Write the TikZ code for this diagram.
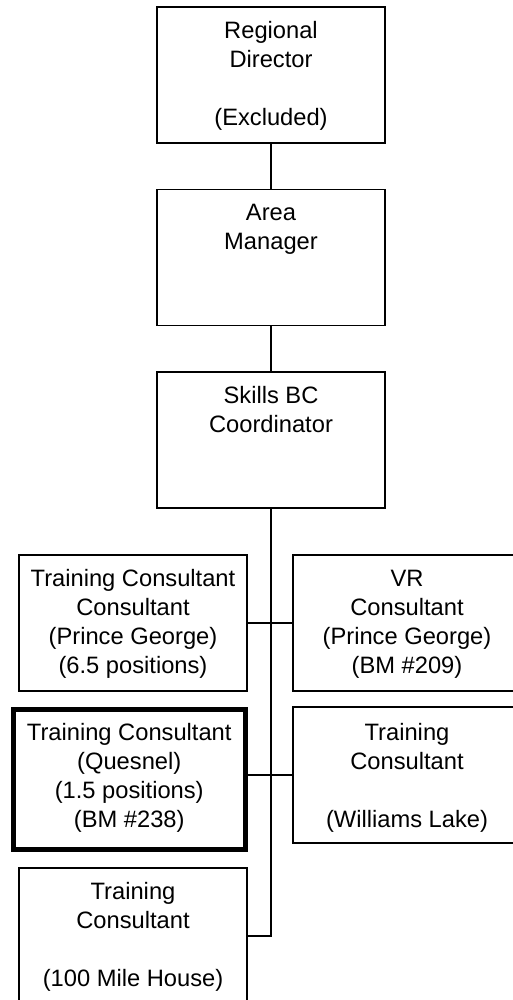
\documentclass[tikz,border=0pt]{standalone}
\usepackage{fontspec}
\setmainfont{Liberation Sans}
\begin{document}
\begin{tikzpicture}[x=1pt,y=-1pt,
  box/.style={draw=black, line width=1.7pt, rectangle, inner sep=0pt, minimum width=228pt, minimum height=136pt},
  thickbox/.style={box, line width=5pt, minimum width=231.5pt, minimum height=140pt},
  txt/.style={font=\fontsize{23.7}{29}\selectfont, align=center, inner sep=0pt, anchor=north},
  link/.style={draw=black, line width=1.7pt}]
\useasboundingbox (0,0) rectangle (513,1000);
\clip (0,0) rectangle (513,1000);
% boxes
\node[box] (rd) at (271,75) {};
\node[box] (am) at (271,257.5) {};
\node[box] (sbc) at (271,440) {};
\node[box] (pg) at (133,623) {};
\node[box] (vr) at (407,623) {};
\node[thickbox] (q) at (129.25,779) {};
\node[box] (wl) at (407,775) {};
\node[box] (mh) at (133,936) {};
% texts
\node[txt] (rdt) at ([yshift=-11.7pt]rd.north) {\strut Regional\\Director\\[29pt](Excluded)};
\node[txt] (amt) at ([yshift=-11.7pt]am.north) {\strut Area\\Manager};
\node[txt] (sbct) at ([yshift=-11.7pt]sbc.north) {\strut Skills BC\\Coordinator};
\node[txt] (pgt) at ([yshift=-11.7pt]pg.north) {\strut Training Consultant\\Consultant\\(Prince George)\\(6.5 positions)};
\node[txt] (vrt) at ([yshift=-11.7pt]vr.north) {\strut VR\\Consultant\\(Prince George)\\(BM \#209)};
\node[txt] (qt) at ([yshift=-13.7pt]q.north) {\strut Training Consultant\\(Quesnel)\\(1.5 positions)\\(BM \#238)};
\node[txt] (wlt) at ([yshift=-13.4pt]wl.north) {\strut Training\\Consultant\\[29pt](Williams Lake)};
\node[txt] (mht) at ([yshift=-11.7pt]mh.north) {\strut Training\\Consultant\\[29pt](100 Mile House)};
% connectors
\draw[link] (rd.south) -- (am.north);
\draw[link] (am.south) -- (sbc.north);
\draw[link] (sbc.south) -- (sbc.south |- mh.east) -- (mh.east);
\draw[link] (pg.east) -- (vr.west);
\draw[link] (wl.west) -- (wl.west -| q.east);
\end{tikzpicture}
\end{document}
